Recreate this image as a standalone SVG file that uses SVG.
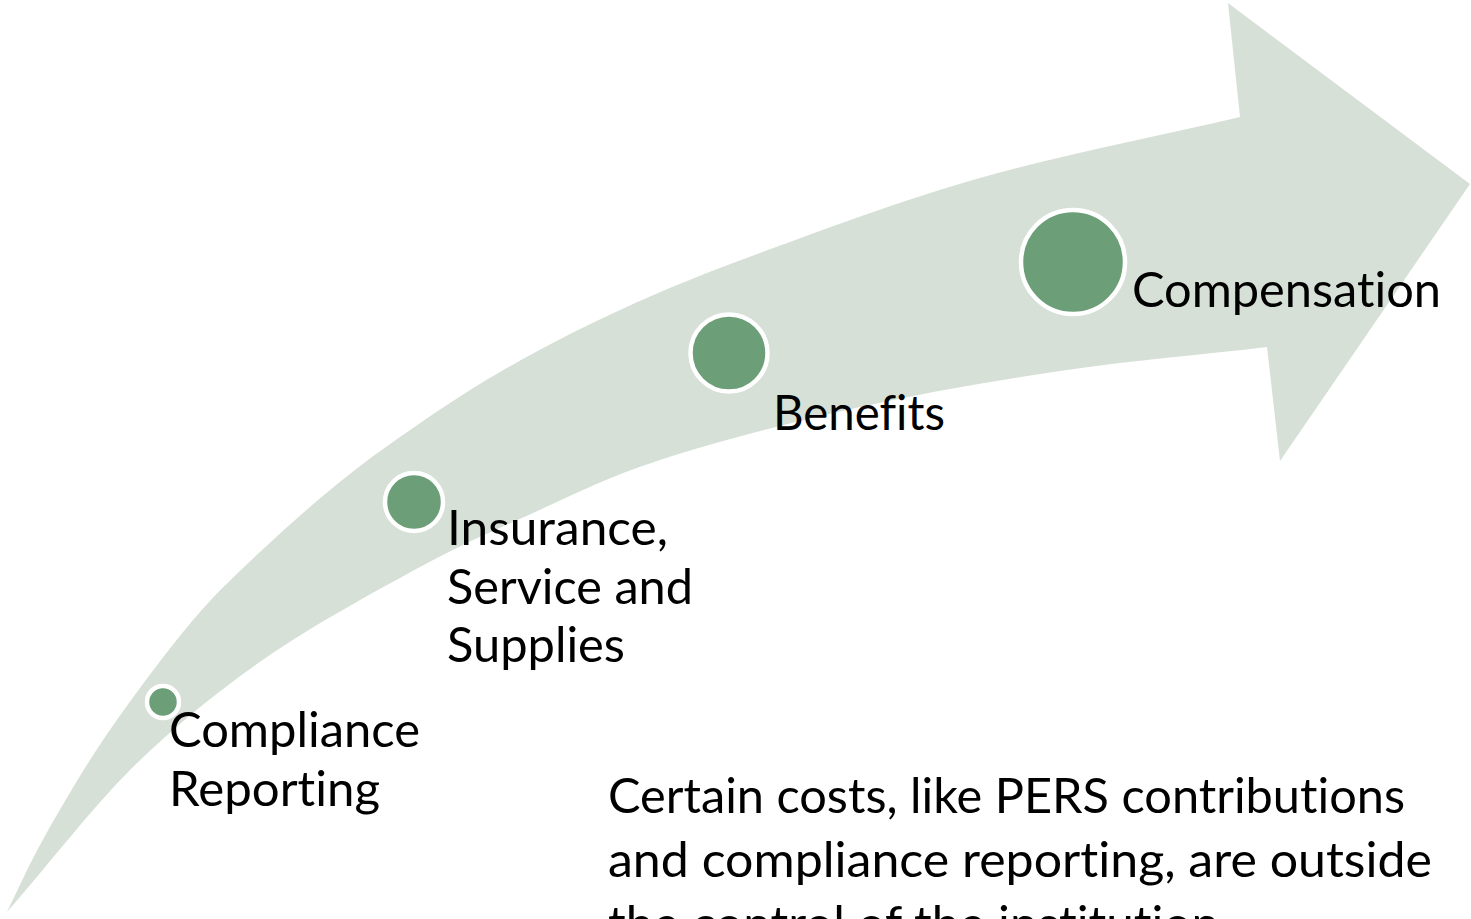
<svg xmlns="http://www.w3.org/2000/svg" width="1471" height="919" viewBox="0 0 1471 919">
<style>
  .band { fill: #d6e0d7; }
  .dot { fill: #6c9e77; stroke: #ffffff; stroke-width: 4.5; }
  .lbl { font-family: Lato, "Open Sans", "Liberation Sans", sans-serif; font-size: 48px; fill: #000000; font-variant-ligatures: none; font-feature-settings: "liga" 0, "clig" 0, "dlig" 0; }
</style>
<rect x="0" y="0" width="1471" height="919" fill="#ffffff"/>
<g id="arrow">
  <path class="band" d="M7,912
    C18,890 26.2,870.3 40,845
    C53.8,819.7 73.3,786.2 90,760
    C106.7,733.8 121.7,712.7 140,688
    C158.3,663.3 180,634.7 200,612
    C220,589.3 238.3,572.3 260,552
    C281.7,531.7 306.7,509.2 330,490
    C353.3,470.8 371.7,456.7 400,437
    C428.3,417.3 463.3,393.2 500,372
    C536.7,350.8 576.7,329.8 620,310
    C663.3,290.2 700,275 760,253
    C820,231 900,200.7 980,178
    C1060,155.3 1153.3,137.3 1240,117
    L1228,3 L1470,184 L1280,461 L1267,347
    C1200,355 1135,360 1067,370
    C999,380 928,392 860,407
    C792,422 715,442 660,460
    C605,478 573,495 533,513
    C493,531 464,543 420,567
    C376,591 315,624 267,657
    C219,690 176,725 133,767
    C90,810 49,864 7,912 Z"/>
</g>
<g id="connectors"></g>
<g id="node-compliance">
  <circle class="dot" cx="163" cy="702" r="16"/>
  <text class="lbl" x="169" y="747" textLength="251" lengthAdjust="spacingAndGlyphs">Compliance</text>
  <text class="lbl" x="169" y="806" textLength="211" lengthAdjust="spacingAndGlyphs">Reporting</text>
</g>
<g id="node-insurance">
  <circle class="dot" cx="414" cy="502" r="29"/>
  <text class="lbl" x="447" y="545" textLength="221" lengthAdjust="spacingAndGlyphs">Insurance,</text>
  <text class="lbl" x="447" y="604" textLength="246" lengthAdjust="spacingAndGlyphs">Service and</text>
  <text class="lbl" x="447" y="662" textLength="178" lengthAdjust="spacingAndGlyphs">Supplies</text>
</g>
<g id="node-benefits">
  <circle class="dot" cx="729" cy="353" r="38.5"/>
  <text class="lbl" x="773" y="430" textLength="172" lengthAdjust="spacingAndGlyphs">Benefits</text>
</g>
<g id="node-compensation">
  <circle class="dot" cx="1073" cy="262" r="52"/>
  <text class="lbl" x="1132" y="307" textLength="309" lengthAdjust="spacingAndGlyphs">Compensation</text>
</g>
<g id="note">
  <text class="lbl" x="608" y="812.7" textLength="797" lengthAdjust="spacingAndGlyphs">Certain costs, like PERS contributions</text>
  <text class="lbl" x="608" y="876.7" textLength="824" lengthAdjust="spacingAndGlyphs">and compliance reporting, are outside</text>
  <text class="lbl" x="608" y="940.7" textLength="611" lengthAdjust="spacingAndGlyphs">the control of the institution</text>
</g>
</svg>
